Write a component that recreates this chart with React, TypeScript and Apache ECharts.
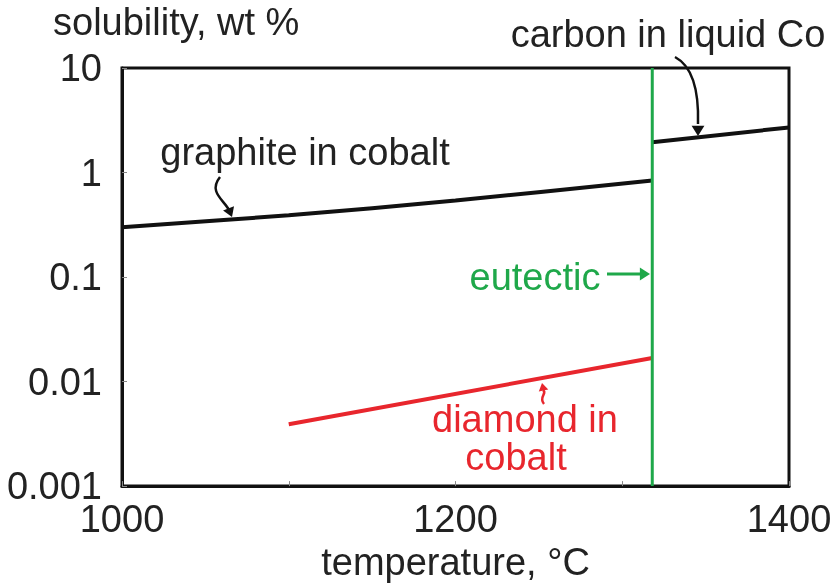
import React, { useEffect, useRef } from "react";
import * as echarts from "echarts";

const graphiteT = [1000, 1100, 1200, 1318];
const graphiteS = [0.3, 0.39, 0.54, 0.84];
const liquidT = [1318, 1400];
const liquidS = [1.95, 2.7];
const diamondT = [1100, 1318];
const diamondS = [0.0039, 0.0168];
const eutecticT = 1318;
const yTicks = [0.001, 0.01, 0.1, 1, 10];
const xLabels = [1000, 1200, 1400];

const FONT = "Liberation Sans, Arial, sans-serif";
const FS = 38;
const RED = "#e8262d";
const GREEN = "#1fa84a";
const INK = "#222";

export default function App() {
  const ref = useRef<HTMLDivElement>(null);
  useEffect(() => {
    const chart = echarts.init(ref.current!, undefined, { renderer: "svg" });
    const zip = (a: number[], b: number[]) => a.map((v, i) => [v, b[i]]);
    const arrowHead = (tipX: number, tipY: number, ang: number, color: string, size = 10) => {
      const a1 = ang + Math.PI * 0.82;
      const a2 = ang - Math.PI * 0.82;
      return {
        type: "polygon",
        shape: {
          points: [
            [tipX, tipY],
            [tipX + size * Math.cos(a1), tipY + size * Math.sin(a1)],
            [tipX + size * Math.cos(a2), tipY + size * Math.sin(a2)],
          ],
        },
        style: { fill: color },
        z: 100,
      };
    };
    const txt = (x: number, y: number, text: string, color: string, align = "center") => ({
      type: "text",
      x,
      y,
      style: { text, fill: color, font: `${FS}px ${FONT}`, align, verticalAlign: "middle" },
      z: 100,
    });
    chart.setOption({
      animation: false,
      grid: { left: 122, right: 46, top: 68, bottom: 94, show: true, borderColor: "#111", borderWidth: 3 },
      xAxis: {
        type: "value",
        min: 1000,
        max: 1400,
        interval: 100,
        name: "temperature, °C",
        nameLocation: "middle",
        nameGap: 54,
        nameTextStyle: { fontFamily: FONT, fontSize: FS, color: INK },
        axisLine: { show: true, onZero: false, lineStyle: { color: "#111", width: 3 } },
        axisTick: { show: true, inside: true, length: 5, lineStyle: { color: "#888" } },
        splitLine: { show: false },
        axisLabel: {
          fontFamily: FONT,
          fontSize: FS,
          color: INK,
          margin: 14,
          formatter: (v: number) => (xLabels.includes(v) ? String(v) : ""),
        },
      },
      yAxis: {
        type: "log",
        logBase: 10,
        min: yTicks[0],
        max: yTicks[yTicks.length - 1],
        axisLine: { show: true, lineStyle: { color: "#111", width: 3 } },
        axisTick: { show: true, inside: true, length: 5, lineStyle: { color: "#888" } },
        splitLine: { show: false },
        minorTick: { show: false },
        axisLabel: {
          fontFamily: FONT,
          fontSize: FS,
          color: INK,
          margin: 20,
          formatter: (v: number) => {
            const m = yTicks.find((t) => Math.abs(t - v) / t < 1e-6);
            return m !== undefined ? String(m) : "";
          },
        },
      },
      series: [
        {
          type: "line",
          data: zip(graphiteT, graphiteS),
          smooth: 0.3,
          showSymbol: false,
          lineStyle: { color: "#111", width: 4 },
        },
        {
          type: "line",
          data: zip(liquidT, liquidS),
          showSymbol: false,
          lineStyle: { color: "#111", width: 4 },
        },
        {
          type: "line",
          data: zip(diamondT, diamondS),
          showSymbol: false,
          lineStyle: { color: RED, width: 4 },
        },
        {
          type: "line",
          data: [
            [eutecticT, yTicks[0]],
            [eutecticT, yTicks[yTicks.length - 1]],
          ],
          showSymbol: false,
          lineStyle: { color: GREEN, width: 3 },
          z: 5,
        },
      ],
      graphic: [
        txt(53, 22, "solubility, wt %", INK, "left"),
        txt(668, 34, "carbon in liquid Co", INK),
        txt(305, 152, "graphite in cobalt", INK),
        txt(535, 277, "eutectic", GREEN),
        {
          type: "text",
          x: 525,
          y: 438,
          style: {
            text: "diamond in\n{c|cobalt}",
            fill: RED,
            font: `${FS}px ${FONT}`,
            align: "center",
            verticalAlign: "middle",
            lineHeight: 38,
            rich: {
              c: { fill: RED, fontFamily: FONT, fontSize: FS, lineHeight: 38, padding: [0, 18, 0, 0] },
            },
          },
          z: 100,
        },
        {
          type: "bezierCurve",
          shape: { x1: 220, y1: 177, cpx1: 208, cpy1: 192, cpx2: 224, cpy2: 200, x2: 229, y2: 210 },
          style: { stroke: "#111", lineWidth: 2.5, fill: "none" },
          z: 100,
        },
        arrowHead(232, 217, Math.atan2(1, 0.4), "#111", 11),
        {
          type: "bezierCurve",
          shape: { x1: 675, y1: 57, cpx1: 692, cpy1: 66, cpx2: 699, cpy2: 90, x2: 698, y2: 124 },
          style: { stroke: "#111", lineWidth: 2.5, fill: "none" },
          z: 100,
        },
        arrowHead(698, 136, Math.PI / 2, "#111", 12),
        {
          type: "bezierCurve",
          shape: { x1: 544, y1: 404, cpx1: 538, cpy1: 397, cpx2: 548, cpy2: 393, x2: 543, y2: 390 },
          style: { stroke: RED, lineWidth: 2.5, fill: "none" },
          z: 100,
        },
        arrowHead(542, 383, -Math.PI / 2 - 0.2, RED, 9),
        {
          type: "line",
          shape: { x1: 607, y1: 274, x2: 642, y2: 274 },
          style: { stroke: GREEN, lineWidth: 3 },
          z: 100,
        },
        arrowHead(650, 274, 0, GREEN, 12),
      ],
    });
    return () => chart.dispose();
  }, []);
  return <div ref={ref} style={{ width: 835, height: 586, position: "fixed", left: 0, top: 0 }} />;
}
